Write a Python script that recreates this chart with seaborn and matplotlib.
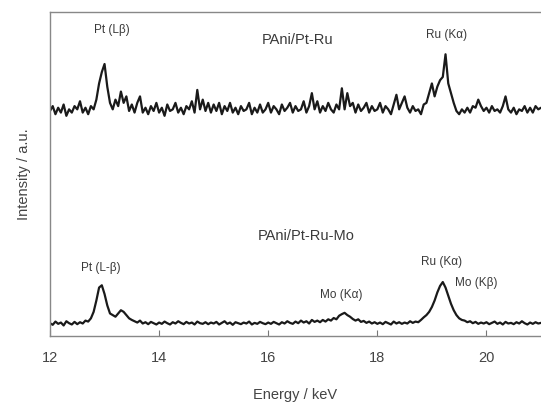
import matplotlib
matplotlib.use("Agg")
from matplotlib import pyplot as plt
import numpy as np
import pandas as pd
import seaborn as sns

# energy channels, 12 - 21 keV in 0.05 keV steps
energy = np.linspace(12, 21, 181)

# PAni/Pt-Ru spectrum (counts)
pt_ru = [
    7.5, 9, 6.5, 8.5, 7, 9.5, 6, 8, 7, 9,
    8, 10.5, 7, 8.5, 6.5, 9, 8, 11, 16, 19.5,
    22, 15, 10, 8, 11, 9, 13.5, 10, 12, 7.5,
    9.5, 7, 10, 12, 7, 8.5, 6.5, 9, 7.5, 10,
    7, 8.5, 6, 9.5, 7.5, 8, 10, 7, 8.5, 6.5,
    9, 8, 10.5, 7, 14, 8, 11, 7.5, 10, 7,
    9.5, 7.5, 10, 6.5, 9, 7.5, 10, 7, 8.5, 6.5,
    9, 7.5, 8, 10, 6.5, 8.5, 7, 9.5, 7, 8,
    10, 7, 9, 8, 6.5, 9.5, 7.5, 8.5, 10, 7,
    9, 7.5, 8, 10.5, 7, 9, 13, 8, 10.5, 7,
    9, 7.5, 10, 8, 7, 9.5, 8, 14.5, 8, 13,
    9, 10, 7, 9.5, 7.5, 8.5, 10, 7, 9, 7.5,
    8, 10, 7, 9, 8, 6.5, 9.5, 12.5, 8, 10,
    12, 8.5, 7, 9, 7.5, 8, 6.5, 9.5, 10, 13,
    16, 12, 15, 17, 18, 25, 16, 13, 10, 7.5,
    6.5, 8, 7, 8.5, 7, 9, 8.5, 11, 9, 7.5,
    8.5, 7, 9, 7.5, 8, 7, 9, 12, 8, 7,
    8.5, 6.5, 8, 7.5, 9, 7, 8.5, 7, 9, 8,
    8.5,
]

# PAni/Pt-Ru-Mo spectrum
pt_ru_mo = [
    4, 3.5, 4.5, 3.8, 4.2, 3.3, 4.6, 4, 3.6, 4.4,
    3.7, 4.3, 3.9, 4.8, 4.5, 5.5, 7.5, 11, 15, 15.7,
    13, 9.5, 7, 6.5, 6, 7, 8, 7.5, 6.5, 5.5,
    5, 4.6, 4.2, 4.8, 3.9, 4.3, 3.7, 4.4, 4, 3.6,
    4.2, 3.8, 4.5, 4, 3.6, 4.3, 3.9, 4.6, 4.1, 3.7,
    4.4, 3.9, 4.2, 3.6, 4.5, 4, 3.8, 4.3, 3.7, 4.2,
    3.9, 4.4, 3.6, 4.1, 4.6, 3.8, 4.2, 3.5, 4.3, 4,
    3.7, 4.2, 3.9, 4.5, 3.6, 4.1, 3.8, 4.4, 4, 3.7,
    4.2, 3.8, 4.4, 4, 3.6, 4.3, 3.9, 4.6, 4.1, 3.8,
    4.5, 4, 4.8, 4.2, 4.6, 3.9, 5, 4.4, 4.8, 4.3,
    5, 4.5, 5.2, 4.8, 5.6, 5.2, 6.3, 6.8, 7.2, 6.5,
    6, 5.3, 4.8, 5.2, 4.4, 4.7, 4.1, 4.5, 3.9, 4.3,
    3.8, 4.2, 3.7, 4.4, 4, 3.6, 4.5, 3.9, 4.3, 3.8,
    4.2, 3.9, 4.6, 4.1, 4.5, 4.3, 5, 5.8, 6.5, 7.5,
    9, 11, 13.5, 15.5, 16.7, 15, 12.5, 10, 8, 6.5,
    5.5, 5, 4.8, 4.3, 4.6, 4, 4.4, 3.8, 4.2, 3.9,
    4.3, 3.7, 4.1, 4.5, 3.8, 4.2, 3.6, 4.4, 3.9, 4.1,
    3.7, 4.3, 3.9, 4.6, 4, 3.6, 4.2, 3.8, 4.3, 3.9,
    4.1,
]

# vertical shift of the upper spectrum
offset_top = 62

# sample names: (text, energy, height)
sample_labels = [
    ("PAni/Pt-Ru", 16.53, 91.5),
    ("PAni/Pt-Ru-Mo", 16.7, 30.9),
]

# peak labels: (text, energy, height)
peak_labels = [
    ("Pt (Lβ)", 13.14, 94.4),
    ("Ru (Kα)", 19.26, 93),
    ("Pt (L-β)", 12.93, 21),
    ("Mo (Kα)", 17.34, 12.7),
    ("Ru (Kα)", 19.18, 22.8),
    ("Mo (Kβ)", 19.82, 16.4),
]

df = pd.DataFrame({
    "Energy": np.concatenate([energy, energy]),
    "Intensity": np.concatenate([np.array(pt_ru) + offset_top, pt_ru_mo]),
    "Sample": ["PAni/Pt-Ru"] * len(energy) + ["PAni/Pt-Ru-Mo"] * len(energy),
})

sns.set_style("ticks")
plt.rcParams['font.family'] = ['Liberation Sans', 'DejaVu Sans']

fig = plt.figure(figsize=(5.41, 4.05), dpi=100)
ax = fig.add_axes([0.0924, 0.170, 0.9076, 0.80])

for name in ["PAni/Pt-Ru", "PAni/Pt-Ru-Mo"]:
    sns.lineplot(data=df[df["Sample"] == name], x="Energy", y="Intensity",
                 color="#1a1a1a", linewidth=1.6, ax=ax, legend=False)

for text, x, y in sample_labels:
    ax.text(x, y, text, ha="center", va="center", fontsize=10.5, color="#3a3a3a")
for text, x, y in peak_labels:
    ax.text(x, y, text, ha="center", va="center", fontsize=8.5, color="#3a3a3a")

ax.set_xlim(12, 21)
ax.set_ylim(0, 100)
ax.set_xticks([12, 14, 16, 18, 20])
ax.set_yticks([])
ax.tick_params(axis="x", direction="in", length=4, color="#777777",
               labelsize=10.5, labelcolor="#444444", pad=11)
for side in ["left", "bottom", "top"]:
    ax.spines[side].set_visible(True)
    ax.spines[side].set_color("#888888")
    ax.spines[side].set_linewidth(1.0)
ax.spines["right"].set_visible(False)

ax.set_xlabel("Energy / keV", fontsize=10.5, color="#444444", labelpad=16)
ax.set_ylabel("Intensity / a.u.", fontsize=10.5, color="#444444", labelpad=14)

fig.savefig("out.png", dpi=100)
